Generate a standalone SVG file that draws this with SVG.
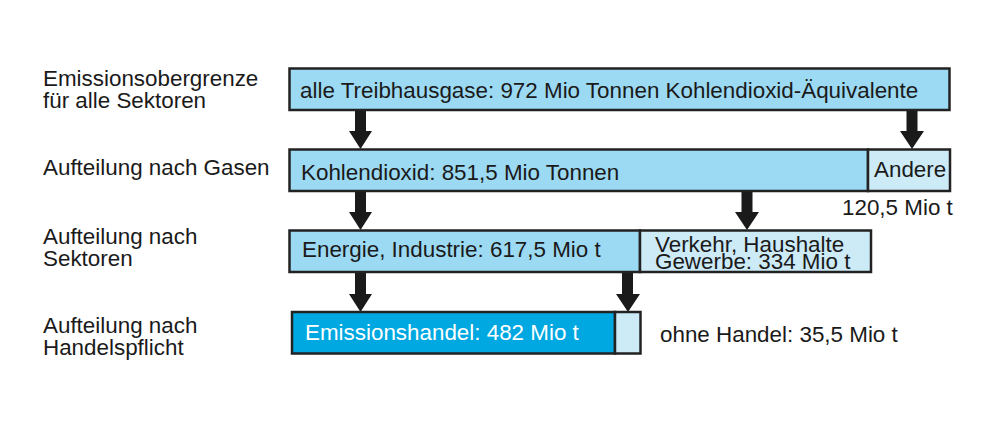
<svg xmlns="http://www.w3.org/2000/svg" width="1000" height="429" viewBox="0 0 1000 429">
<style>
text{font-family:"Liberation Sans",Arial,Helvetica,sans-serif;font-size:22.4px;fill:#1a1a1a}
.box{stroke:#222;stroke-width:2.5}
.mid{fill:#9cd9f2}
.light{fill:#cdeaf7}
.bright{fill:#00a8e1}
.w{fill:#ffffff}
.arr{fill:#1a1a1a}
</style>
<rect width="1000" height="429" fill="#ffffff"/>
<g id="labels">
<text x="43" y="86">Emissionsobergrenze</text>
<text x="43" y="108">für alle Sektoren</text>
<text x="43" y="175">Aufteilung nach Gasen</text>
<text x="43" y="244">Aufteilung nach</text>
<text x="43" y="266">Sektoren</text>
<text x="43" y="333">Aufteilung nach</text>
<text x="43" y="355">Handelspflicht</text>
</g>
<g id="connectors">
<path class="arr" d="M355,110 V131 H349 L360.5,149 L372,131 H366 V110 Z"/>
<path class="arr" d="M906.5,110 V131 H900 L912,149 L924,131 H917.5 V110 Z"/>
<path class="arr" d="M355,191 V212 H349 L360.5,230 L372,212 H366 V191 Z"/>
<path class="arr" d="M741.5,191 V212 H735 L747,230 L759,212 H752.5 V191 Z"/>
<path class="arr" d="M355,272 V294 H349 L360.5,312 L372,294 H366 V272 Z"/>
<path class="arr" d="M622,272 V294 H616 L628,312 L640,294 H633 V272 Z"/>
</g>
<g id="n-treibhausgase">
<rect class="box mid" x="289.5" y="68.5" width="660" height="41.5"/>
<text x="300" y="98">alle Treibhausgase: 972 Mio Tonnen Kohlendioxid-Äquivalente</text>
</g>
<g id="n-kohlendioxid">
<rect class="box mid" x="289.5" y="149.5" width="578.5" height="41.5"/>
<text x="301" y="180">Kohlendioxid: 851,5 Mio Tonnen</text>
</g>
<g id="n-andere">
<rect class="box light" x="868" y="149.5" width="82" height="41.5"/>
<text x="874" y="177">Andere</text>
<text x="842" y="215">120,5 Mio t</text>
</g>
<g id="n-energie">
<rect class="box mid" x="289.5" y="230.5" width="350.5" height="41.5"/>
<text x="302" y="257">Energie, Industrie: 617,5 Mio t</text>
</g>
<g id="n-verkehr">
<rect class="box light" x="640" y="230.5" width="231" height="41.5"/>
<text x="655" y="252">Verkehr, Haushalte</text>
<text x="655" y="269">Gewerbe: 334 Mio t</text>
</g>
<g id="n-emissionshandel">
<rect class="box bright" x="292" y="312" width="323" height="41.5"/>
<text class="w" x="305" y="340">Emissionshandel: 482 Mio t</text>
</g>
<g id="n-ohnehandel">
<rect class="box light" x="615" y="312" width="25.5" height="41.5"/>
<text x="660" y="342">ohne Handel: 35,5 Mio t</text>
</g>
</svg>
